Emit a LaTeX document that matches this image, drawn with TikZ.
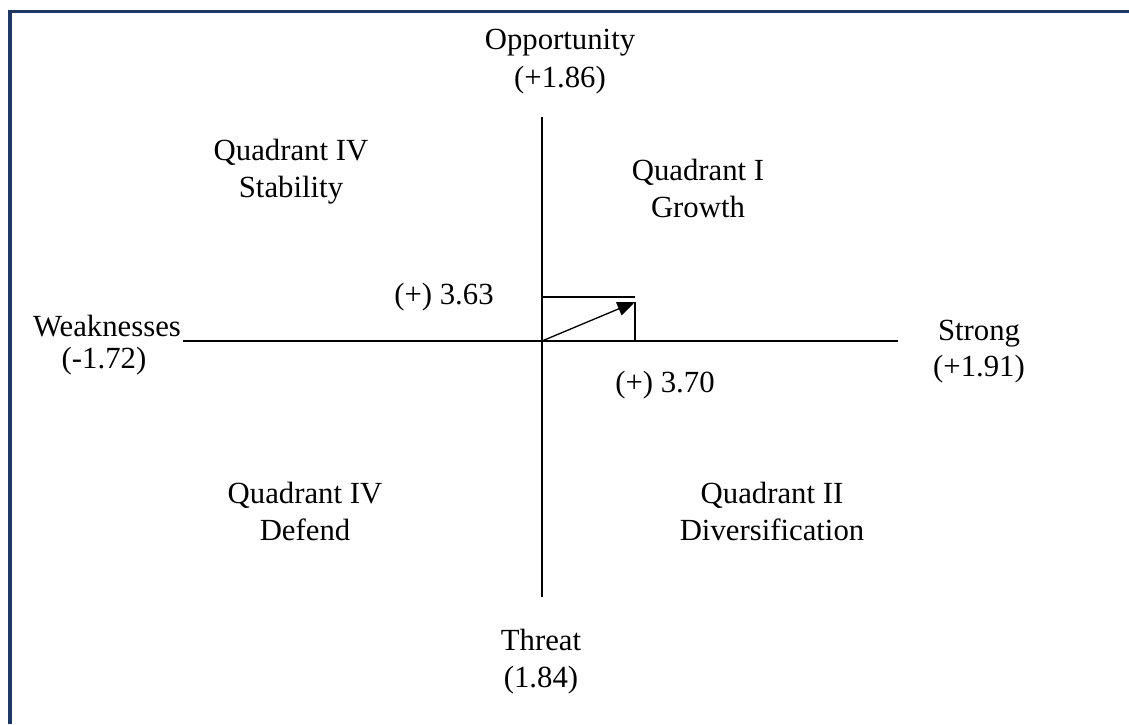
\documentclass[tikz,border=0pt]{standalone}
\usepackage{fontspec}
\setmainfont{Liberation Serif}
\usetikzlibrary{arrows.meta}
\definecolor{frameblue}{HTML}{1F3864}
\tikzset{
  lbl/.style={anchor=base, inner sep=1pt, font=\fontsize{17.5}{21}\selectfont},
  axis/.style={line width=0.75pt},
}
\begin{document}
\begin{tikzpicture}[x=0.02cm, y=-0.02cm]
      \useasboundingbox (0,0) rectangle (1129,724);
      % frame (top and left only)
      \draw[frameblue, line width=1.8pt] (10,724) -- (10,11.5) -- (1129,11.5);
      % labels
      \node[lbl] (opp) at (560,49) {Opportunity};
      \node[lbl] (oppv) at (560,87) {(+1.86)};
      \node[lbl] (stab1) at (291,160) {Quadrant IV};
      \node[lbl] (stab2) at (291,197) {Stability};
      \node[lbl] (grow1) at (698,180) {Quadrant I};
      \node[lbl] (grow2) at (698,217) {Growth};
      \node[lbl] (v363) at (444,304) {(+) 3.63};
      \node[lbl] (weak) at (107,336) {Weaknesses};
      \node[lbl] (weakv) at (104,368) {(-1.72)};
      \node[lbl] (strong) at (979,340) {Strong};
      \node[lbl] (strongv) at (979,376) {(+1.91)};
      \node[lbl] (v370) at (665,392) {(+) 3.70};
      \node[lbl] (def1) at (305,503) {Quadrant IV};
      \node[lbl] (def2) at (305,540) {Defend};
      \node[lbl] (div1) at (772,503) {Quadrant II};
      \node[lbl] (div2) at (772,540) {Diversification};
      \node[lbl] (thr) at (541,650) {Threat};
      \node[lbl] (thrv) at (541,687) {(1.84)};
      % axes
      \coordinate (O) at (542,341);
      \coordinate (E) at (898,341);
      \coordinate (N) at (542,117);
      \coordinate (S) at (542,597);
      \coordinate (top) at (635,297);
      \coordinate (tip) at (635,302);
      \draw[axis] (weak.east |- O) -- (E);
      \draw[axis] (N) -- (S);
      \draw[axis] (O |- top) -- (top);
      \draw[axis] (tip) -- (O -| tip);
      \draw[axis, -{Triangle[length=10pt, width=8pt]}] (O) -- (tip);
   \end{tikzpicture}
\end{document}
